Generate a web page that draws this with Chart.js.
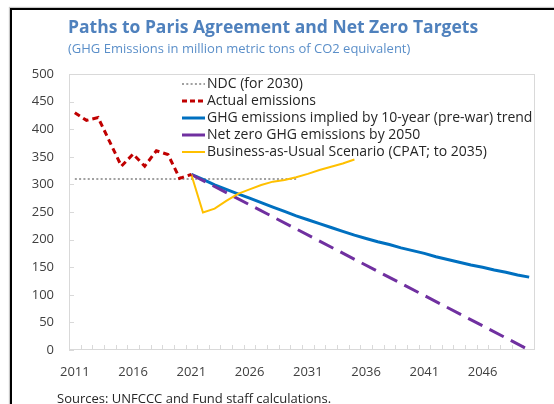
<!DOCTYPE html>
<html><head><meta charset="utf-8">
<script src="https://cdn.jsdelivr.net/npm/chart.js@4.4.1/dist/chart.umd.min.js"></script>
<style>
html,body{margin:0;padding:0;background:#fff;width:554px;height:404px;overflow:hidden;}
#frame{position:absolute;left:10px;top:8px;width:600px;height:500px;border-left:2px solid #000;border-top:2px solid #000;box-shadow:-1px -1px 1px #c8c8c8;}
#chart{position:absolute;left:0;top:0;}
.txt{position:absolute;white-space:nowrap;}
#title{left:68px;top:14px;font:bold 17.5px "Open Sans";color:#4f81bd;}
#subtitle{left:68px;top:39px;font:13px "Open Sans";color:#5b8fc9;}
#source{left:57px;top:389px;font:13px "Open Sans";color:#262626;}
</style></head>
<body>
<div id="frame"></div>
<canvas id="chart" width="554" height="404"></canvas>
<div class="txt" id="title">Paths to Paris Agreement and Net Zero Targets</div>
<div class="txt" id="subtitle">(GHG Emissions in million metric tons of CO2 equivalent)</div>
<div class="txt" id="source">Sources: UNFCCC and Fund staff calculations.</div>
<script>
// Categories (years)
const years = ['2011','2012','2013','2014','2015','2016','2017','2018','2019','2020',
  '2021','2022','2023','2024','2025','2026','2027','2028','2029','2030',
  '2031','2032','2033','2034','2035','2036','2037','2038','2039','2040',
  '2041','2042','2043','2044','2045','2046','2047','2048','2049','2050'];
const shownYearLabels = ['2011','2016','2021','2026','2031','2036','2041','2046'];
const yTicks = [0,50,100,150,200,250,300,350,400,450,500];

// NDC (for 2030): flat target level, 2011–2030
const ndcYears = ['2011','2030'];
const ndcValues = [310, 310];
// Actual emissions 2011–2021
const actualYears = ['2011','2012','2013','2014','2015','2016','2017','2018','2019','2020','2021'];
const actualValues = [430, 416, 421, 377, 333, 355, 333, 361, 354, 311, 318];
// 10-year (pre-war) trend 2021–2050
const trendYears = years.slice(10);
const trendValues = [318, 309, 299, 291, 283, 275, 267, 259, 251, 243,
  236, 229, 222, 215, 208, 202, 196, 191, 185, 180,
  175, 169, 164, 159, 154, 150, 145, 141, 136, 132];
// Net zero by 2050 (straight path)
const netZeroYears = ['2021','2050'];
const netZeroValues = [318, 0];
// Business-as-usual (CPAT) 2021–2035
const bauYears = years.slice(10, 25);
const bauValues = [318, 249, 256, 270, 283, 291, 299, 305, 308, 313, 319, 326, 332, 338, 345];

const seriesLabels = ['NDC (for 2030)','Actual emissions','GHG emissions implied by 10-year (pre-war) trend','Net zero GHG emissions by 2050','Business-as-Usual Scenario (CPAT; to 2035)'];

const pts = (xs, vs) => xs.map((x, i) => ({x: x, y: vs[i]}));
const FONT = '"Open Sans", sans-serif';

const decor = {
  id: 'decor',
  beforeDatasetsDraw(chart) {
    const {ctx, chartArea: a, scales: {x, y}} = chart;
    ctx.save();
    ctx.strokeStyle = '#d9d9d9';
    ctx.lineWidth = 1;
    ctx.strokeRect(a.left + 0.5, a.top + 0.5, a.right - a.left - 1, a.bottom - a.top - 1);
    ctx.beginPath();
    for (let i = 1; i < years.length; i++) {
      const px = Math.round(x.getPixelForValue(i - 0.5)) + 0.5;
      ctx.moveTo(px, a.bottom); ctx.lineTo(px, a.bottom - 5);
    }
    yTicks.forEach(t => {
      const py = Math.round(y.getPixelForValue(t)) + 0.5;
      ctx.moveTo(a.left, py); ctx.lineTo(a.left + 5, py);
    });
    ctx.stroke();
    ctx.restore();
  },
  afterDatasetsDraw(chart) {
    const {ctx} = chart;
    const x0 = 182, x1 = 205, tx = 207, y0 = 84, dy = 17;
    ctx.save();
    ctx.font = '14px ' + FONT;
    ctx.textBaseline = 'middle';
    chart.data.datasets.forEach((ds, i) => {
      const yy = y0 + dy * i;
      ctx.beginPath();
      ctx.strokeStyle = ds.borderColor;
      ctx.lineWidth = ds.borderWidth;
      ctx.setLineDash(ds.legendDash || []);
      ctx.moveTo(x0, yy); ctx.lineTo(x1, yy);
      ctx.stroke();
      ctx.setLineDash([]);
      ctx.fillStyle = '#262626';
      ctx.fillText(ds.label, tx, yy);
    });
    ctx.restore();
  }
};

new Chart(document.getElementById('chart'), {
  type: 'line',
  data: {
    labels: years,
    datasets: [
      {label: seriesLabels[0], data: pts(ndcYears, ndcValues), borderColor: '#a0a0a0', borderWidth: 2, borderDash: [2, 2.3], legendDash: [2, 2.3], order: 5},
      {label: seriesLabels[1], data: pts(actualYears, actualValues), borderColor: '#c00000', borderWidth: 3, borderDash: [6, 4], legendDash: [5, 3], order: 1},
      {label: seriesLabels[2], data: pts(trendYears, trendValues), borderColor: '#0070c0', borderWidth: 3, order: 4},
      {label: seriesLabels[3], data: pts(netZeroYears, netZeroValues), borderColor: '#7030a0', borderWidth: 3, borderDash: [16, 8], legendDash: [], order: 3},
      {label: seriesLabels[4], data: pts(bauYears, bauValues), borderColor: '#ffc000', borderWidth: 2, order: 2}
    ]
  },
  options: {
    responsive: false,
    animation: false,
    events: [],
    elements: {point: {radius: 0}, line: {tension: 0, borderCapStyle: 'butt'}},
    layout: {padding: {left: 20, right: 19, top: 74, bottom: 24}},
    plugins: {legend: {display: false}, title: {display: false}, tooltip: {enabled: false}},
    scales: {
      x: {
        type: 'category',
        offset: true,
        grid: {display: false, drawTicks: false},
        border: {display: false},
        afterFit: s => { s.height = 30; },
        ticks: {
          autoSkip: false, maxRotation: 0, padding: 14,
          color: '#404040', font: {size: 13, family: FONT},
          callback: function (v) { const l = this.getLabelForValue(v); return shownYearLabels.includes(l) ? l : ''; }
        }
      },
      y: {
        min: 0, max: 500,
        grid: {display: false, drawTicks: false},
        border: {display: false},
        afterFit: s => { s.width = 49; },
        afterBuildTicks: s => { s.ticks = yTicks.map(v => ({value: v})); },
        ticks: {padding: 15, color: '#404040', font: {size: 13, family: FONT}}
      }
    }
  },
  plugins: [decor]
});
</script>
</body></html>
